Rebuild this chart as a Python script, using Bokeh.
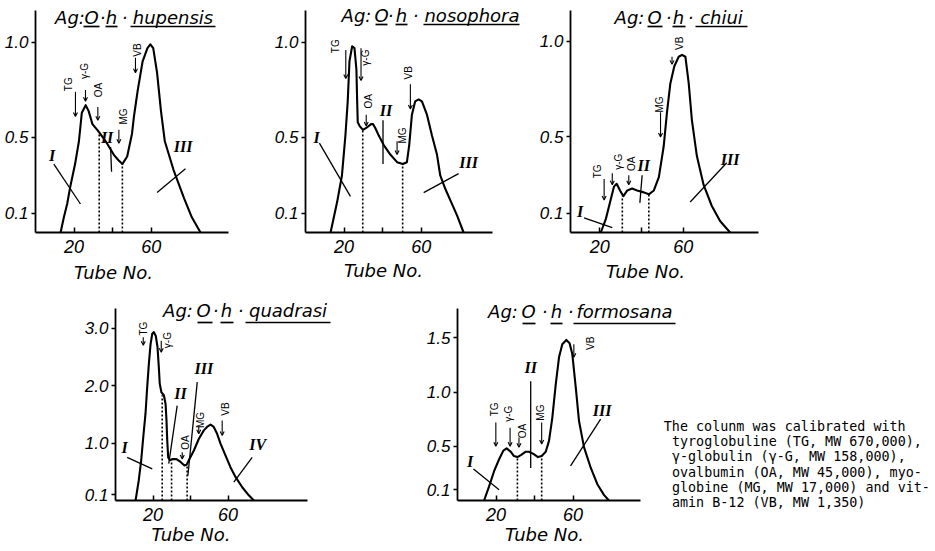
import math
from bokeh.plotting import figure
from bokeh.models import (FixedTicker, Range1d, Arrow, OpenHead, ColumnDataSource, Spacer,
                          NumeralTickFormatter)
from bokeh.layouts import row, column
from bokeh.embed import file_html
from bokeh.resources import INLINE
from bokeh.core.properties import value

# ---------------- chart values ----------------
X_TICKS = [20, 40, 60]
X_TICK_TEXT = {40: ""}
Y_TICKS_SMALL = [0.1, 0.5, 1.0]
Y_TICKS_QUA = [0.1, 1.0, 2.0, 3.0]
Y_TICKS_FOR = [0.1, 0.5, 1.0, 1.5]
MARKERS = ["TG", "γ-G", "OA", "MG", "VB"]
FRACTIONS_3 = ["I", "II", "III"]
FRACTIONS_4 = ["I", "II", "III", "IV"]
X_TITLE = "Tube No."

# Ag:O.h.hupensis
HUP_TUBE = [13, 14.7, 16.4, 18, 20.5, 22.5, 24, 26, 27.5, 29.5, 32, 33.5, 37, 40.5, 43, 45, 47.5,
            50, 51, 52, 53, 55.5, 58, 59.5, 61, 63, 65, 67, 71.5, 77, 81, 85.5]
HUP_OD = [0, 0.08, 0.15, 0.24, 0.36, 0.48, 0.63, 0.67, 0.64, 0.57, 0.54, 0.52, 0.47, 0.41, 0.38, 0.36, 0.40,
          0.52, 0.61, 0.68, 0.75, 0.90, 0.97, 0.99, 0.97, 0.84, 0.64, 0.48, 0.33, 0.18, 0.08, 0]
HUP_CUT_TUBE = [33, 45]
HUP_CUT_OD = [0.52, 0.36]

# Ag:O.h.nosophora
NOS_TUBE = [13, 16.4, 18.9, 20.7, 21.9, 22.8, 24.2, 25.4, 26.4, 26.8, 27.1, 28.1, 29.8, 31.5, 34, 35, 36.2,
            38, 40.6, 44, 47.5, 50.5, 52.6, 53.8, 55.2, 56.9, 58.7, 60.4, 63, 65.6, 68.2, 69.9, 72.5, 75.1,
            78.6, 82]
NOS_OD = [0, 0.16, 0.30, 0.51, 0.69, 0.90, 0.98, 0.97, 0.86, 0.69, 0.58, 0.56, 0.54, 0.55, 0.57, 0.57, 0.55,
          0.51, 0.46, 0.41, 0.37, 0.36, 0.37, 0.46, 0.62, 0.69, 0.70, 0.69, 0.62, 0.51, 0.41, 0.30, 0.23, 0.17,
          0.09, 0]
NOS_CUT_TUBE = [29.7, 50.4]
NOS_CUT_OD = [0.54, 0.36]

# Ag:O.h.chiui
CHI_TUBE = [20.5, 22.9, 25.2, 26.8, 28.1, 29.7, 31.3, 33.2, 35.5, 37.9, 41.1, 43.5, 45.9, 48.3, 50.6, 52.2,
            53.8, 55.7, 57.8, 59.4, 61, 62.6, 64.1, 66.5, 69.7, 73.6, 77.6, 82.4]
CHI_OD = [0, 0.07, 0.17, 0.24, 0.255, 0.22, 0.19, 0.22, 0.23, 0.22, 0.21, 0.20, 0.22, 0.29, 0.45, 0.63,
          0.78, 0.87, 0.92, 0.93, 0.92, 0.78, 0.59, 0.40, 0.25, 0.14, 0.06, 0]
CHI_CUT_TUBE = [30.8, 43.5]
CHI_CUT_OD = [0.19, 0.20]

# Ag:O.h.quadrasi
QUA_TUBE = [10.7, 12.4, 13.7, 14.8, 16, 16.9, 17.8, 18.7, 19.6, 20.4, 21.5, 22.4, 23.1, 23.6, 24.5, 25.8,
            26.7, 27.2, 27.6, 28.1, 29, 30.2, 32.5, 34.7, 36.8, 37.9, 39.1, 41.8, 44.4, 47.1, 49.2, 50.7,
            52.4, 54.2, 56, 58.7, 61.3, 64, 67.6, 71.1, 73.8]
QUA_OD = [0, 0.35, 0.70, 1.10, 1.51, 1.97, 2.38, 2.72, 2.90, 2.93, 2.86, 2.67, 2.32, 2.03, 1.88, 1.83,
          1.68, 1.39, 1.04, 0.75, 0.70, 0.72, 0.72, 0.67, 0.61, 0.62, 0.70, 0.87, 1.07, 1.22, 1.29, 1.32,
          1.28, 1.16, 0.99, 0.78, 0.58, 0.41, 0.23, 0.09, 0]
QUA_CUT_TUBE = [24.9, 29.9, 38.2]
QUA_CUT_OD = [1.83, 0.71, 0.61]

# Ag:O.h.formosana
FOR_TUBE = [13.8, 16.4, 19, 21.6, 23.8, 25.5, 27.6, 29.3, 31.1, 33.1, 35.4, 37.1, 39.4, 41.8, 43.7, 45.8,
            47.5, 49.2, 51, 52.7, 54.4, 56.5, 58.2, 59.6, 61.4, 63.1, 65.7, 69.2, 72.6, 76.1, 78.6]
FOR_OD = [0, 0.13, 0.27, 0.38, 0.46, 0.48, 0.45, 0.41, 0.40, 0.42, 0.45, 0.45, 0.43, 0.40, 0.41, 0.45,
          0.55, 0.76, 1.07, 1.32, 1.44, 1.48, 1.45, 1.35, 1.04, 0.73, 0.49, 0.30, 0.15, 0.05, 0]
FOR_CUT_TUBE = [31.1, 43.7]
FOR_CUT_OD = [0.40, 0.41]

NOTE_LINES = ["The colunm was calibrated with",
              "tyroglobuline (TG, MW 670,000),",
              "γ-globulin (γ-G, MW 158,000),",
              "ovalbumin (OA, MW 45,000), myo-",
              "globine (MG, MW 17,000) and vit-",
              "amin B-12 (VB, MW 1,350)"]

# ---------------- layout geometry (page px, page has no body margin) ----------------
G1 = dict(cl=0, ct=0, w=250, h=285, fl=35, fr=228, ft=10, fb=232, x0=0, x1=100, y0=0, y1=1.168)
G2 = dict(cl=250, ct=0, w=270, h=285, fl=305, fr=492, ft=10, fb=232, x0=0, x1=97, y0=0, y1=1.168)
G3 = dict(cl=520, ct=0, w=270, h=285, fl=570, fr=758, ft=10, fb=232, x0=6, x1=96, y0=0, y1=1.162)
G4 = dict(cl=80, ct=285, w=330, h=265, fl=115, fr=307, ft=308, fb=500, x0=0, x1=102.4, y0=0, y1=3.34)
G5 = dict(cl=410, ct=285, w=524, h=265, fl=457, fr=640, ft=308, fb=500, x0=0, x1=95, y0=0, y1=1.77)


def px2d(g, x, y):
    t = g["x0"] + (x - g["fl"]) / (g["fr"] - g["fl"]) * (g["x1"] - g["x0"])
    v = g["y0"] + (g["fb"] - y) / (g["fb"] - g["ft"]) * (g["y1"] - g["y0"])
    return t, v


def base_fig(g, yticks):
    p = figure(width=g["w"], height=g["h"], x_range=Range1d(g["x0"], g["x1"]),
               y_range=Range1d(g["y0"], g["y1"]), output_backend="svg", toolbar_location=None,
               title=None,
               min_border_left=g["fl"] - g["cl"], min_border_right=g["cl"] + g["w"] - g["fr"],
               min_border_top=g["ft"] - g["ct"], min_border_bottom=g["ct"] + g["h"] - g["fb"])
    p.outline_line_color = None
    p.grid.visible = False
    p.background_fill_color = "white"
    p.border_fill_color = "white"
    xa = p.xaxis[0]
    xa.ticker = FixedTicker(ticks=X_TICKS)
    xa.major_label_overrides = X_TICK_TEXT
    xa.minor_tick_line_color = None
    xa.major_tick_in = 5
    xa.major_tick_out = 0
    xa.major_label_standoff = 7
    xa.axis_line_width = 1.8
    xa.major_tick_line_width = 1.5
    xa.major_label_text_font = "Liberation Sans"
    xa.major_label_text_font_style = "italic"
    xa.major_label_text_font_size = "18px"
    xa.major_label_text_color = "black"
    ya = p.yaxis[0]
    ya.ticker = FixedTicker(ticks=yticks)
    ya.formatter = NumeralTickFormatter(format="0.0")
    ya.minor_tick_line_color = None
    ya.major_tick_in = 0
    ya.major_tick_out = 4
    ya.major_label_standoff = 3
    ya.axis_line_width = 1.8
    ya.major_tick_line_width = 1.5
    ya.major_label_text_font = "Liberation Sans"
    ya.major_label_text_font_style = "italic"
    ya.major_label_text_font_size = "17px"
    ya.major_label_text_color = "black"
    return p


def free_text(p, g, texts, xs_px, base_px, font, size, style="normal", align="center"):
    xs, ys = [], []
    for x, b in zip(xs_px, base_px):
        t, v = px2d(g, x, b - 0.33 * size)
        xs.append(t)
        ys.append(v)
    p.text(x=xs, y=ys, text=texts, text_font=value(font), text_font_style=style,
           text_font_size=f"{size}px", text_align=align, text_baseline="middle", text_color="black",
           level="overlay")


def add_title(p, g, pieces, centers, base_y, ul_spans, ul_y):
    free_text(p, g, pieces, centers, [base_y] * len(pieces), "DejaVu Sans", 18, "italic")
    x0s, x1s, ys = [], [], []
    for a, b in ul_spans:
        ta, vv = px2d(g, a, ul_y)
        tb, _ = px2d(g, b, ul_y)
        x0s.append(ta)
        x1s.append(tb)
        ys.append(vv)
    p.segment(x0=x0s, y0=ys, x1=x1s, y1=ys, line_color="black", line_width=1.7, level="overlay")


def add_xtitle(p, g, cx, base_y):
    free_text(p, g, [X_TITLE], [cx], [base_y], "DejaVu Sans", 18, "italic")


def add_curve(p, tube, od, cut_t, cut_h):
    p.segment(x0=cut_t, y0=[0] * len(cut_t), x1=cut_t, y1=cut_h, line_color="black",
              line_width=1.6, line_dash="2 2")
    p.line(tube, od, line_color="black", line_width=2.1, line_join="round")


def add_fractions(p, labels, lx, ly, x0, y0, x1, y1):
    p.segment(x0=x0, y0=y0, x1=x1, y1=y1, line_color="black", line_width=1.3)
    p.text(x=lx, y=ly, text=labels, text_font=value("Liberation Serif"), text_font_style="bold italic",
           text_font_size="16px", text_align="center", text_baseline="middle", text_color="black")


def add_markers(p, tx, ty, ax, ay0, ay1):
    p.text(x=tx, y=ty, text=MARKERS, angle=math.pi / 2, text_font=value("Liberation Sans"),
           text_font_size="10px", text_align="center", text_baseline="middle", text_color="black")
    src = ColumnDataSource(dict(x=ax, y0=ay0, y1=ay1))
    p.add_layout(Arrow(end=OpenHead(size=4, line_width=1.1, line_color="black"), x_start="x",
                       y_start="y0", x_end="x", y_end="y1", source=src, line_width=1.1,
                       line_color="black"))


# ---- panel 1: hupensis ----
p1 = base_fig(G1, Y_TICKS_SMALL)
add_curve(p1, HUP_TUBE, HUP_OD, HUP_CUT_TUBE, HUP_CUT_OD)
add_fractions(p1, FRACTIONS_3, [8.6, 37.1, 76.5], [0.405, 0.50, 0.45],
              [9.5, 38.9, 77.7], [0.36, 0.45, 0.335], [23.3, 39.4, 63.0], [0.15, 0.32, 0.21])
add_markers(p1, [17.3, 25.2, 32.8, 45.4, 52.7], [0.78, 0.85, 0.75, 0.61, 0.96],
            [20.7, 25.9, 32.3, 43.2, 51.8], [0.74, 0.75, 0.66, 0.54, 0.92], [0.61, 0.69, 0.59, 0.47, 0.84])
add_title(p1, G1, ["Ag:", "O", "·", "h", "·", "hupensis"], [69.5, 91, 102, 111, 124, 172.5], 23,
          [(83, 99), (105, 117), (130, 215)], 26)
add_xtitle(p1, G1, 113, 278)

# ---- panel 2: nosophora ----
p2 = base_fig(G2, Y_TICKS_SMALL)
add_curve(p2, NOS_TUBE, NOS_OD, NOS_CUT_TUBE, NOS_CUT_OD)
add_fractions(p2, FRACTIONS_3, [5.7, 41.8, 84.6], [0.50, 0.64, 0.37],
              [7.2, 40.2, 79.4], [0.47, 0.59, 0.31], [23.3, 40.2, 61.3], [0.19, 0.36, 0.21])
add_markers(p2, [15.5, 31.1, 32.8, 50.1, 53.5], [0.98, 0.92, 0.69, 0.51, 0.84],
            [20.9, 28.8, 31.5, 47.5, 54.4], [0.96, 0.97, 0.62, 0.48, 0.78], [0.81, 0.80, 0.56, 0.41, 0.65])
add_title(p2, G2, ["Ag:", "O", "·", "h", "·", "nosophora"], [356, 381, 390, 401, 415, 471.5], 21,
          [(375, 387), (395, 407), (423, 519)], 24)
add_xtitle(p2, G2, 383, 276)

# ---- panel 3: chiui ----
p3 = base_fig(G3, Y_TICKS_SMALL)
add_curve(p3, CHI_TUBE, CHI_OD, CHI_CUT_TUBE, CHI_CUT_OD)
add_fractions(p3, FRACTIONS_3, [10.6, 41.1, 82.4], [0.11, 0.35, 0.38],
              [12.5, 40.3, 80.8], [0.077, 0.30, 0.365], [26, 39.2, 63.3], [0.025, 0.155, 0.16])
add_markers(p3, [18.9, 29.2, 35.1, 48.7, 58.2], [0.32, 0.37, 0.36, 0.67, 0.99],
            [22.1, 26, 33.9, 49.1, 54.6], [0.28, 0.31, 0.30, 0.63, 0.92], [0.17, 0.25, 0.25, 0.50, 0.88])
add_title(p3, G3, ["Ag:", "O", "·", "h", "·", "chiui"], [629, 654, 668, 678, 690, 721], 23,
          [(647, 662), (672, 685), (695, 747)], 26)
add_xtitle(p3, G3, 645, 277)

# ---- panel 4: quadrasi ----
p4 = base_fig(G4, Y_TICKS_QUA)
add_curve(p4, QUA_TUBE, QUA_OD, QUA_CUT_TUBE, QUA_CUT_OD)
add_fractions(p4, FRACTIONS_4, [4.8, 34.7, 47.1, 75.9], [0.92, 1.86, 2.29, 0.97],
              [6.2, 32.9, 43.6, 72.9], [0.75, 1.65, 2.06, 0.75], [19.6, 28.4, 38.6, 63.1],
              [0.55, 0.64, 0.43, 0.32])
add_markers(p4, [15.1, 27.6, 37.3, 45.3, 58.7], [2.99, 2.79, 1.01, 1.40, 1.59],
            [14.8, 24.4, 35.6, 44.4, 56.9], [2.84, 2.78, 0.84, 1.28, 1.39], [2.70, 2.58, 0.72, 1.16, 1.13])
add_title(p4, G4, ["Ag:", "O", "·", "h", "·", "quadrasi"], [177.5, 203, 215, 226, 240, 287.5], 316,
          [(197, 212), (220, 233), (245, 330)], 322)
add_xtitle(p4, G4, 190.5, 540)

# ---- panel 5: formosana (+ calibration note) ----
p5 = base_fig(G5, Y_TICKS_FOR)
add_curve(p5, FOR_TUBE, FOR_OD, FOR_CUT_TUBE, FOR_CUT_OD)
add_fractions(p5, FRACTIONS_3, [6.5, 38, 75.1], [0.36, 1.23, 0.83],
              [8.3, 38, 74.3], [0.29, 1.10, 0.75], [21.6, 38, 58.7], [0.10, 0.30, 0.32])
add_markers(p5, [19, 26.7, 33.7, 43.2, 69.1], [0.84, 0.80, 0.64, 0.81, 1.45],
            [19.9, 27.3, 31.9, 43.7, 60.4], [0.72, 0.67, 0.58, 0.72, 1.44], [0.50, 0.50, 0.49, 0.52, 1.32])
add_title(p5, G5, ["Ag:", "O", "·", "h", "·", "formosana"], [502.5, 528, 544, 556, 570, 624], 317,
          [(522, 535), (550, 562), (573, 675)], 323)
add_xtitle(p5, G5, 544, 540)

note_x = [663.3] + [671.4] * (len(NOTE_LINES) - 1)
note_base = [430.7 + 15.1 * i for i in range(len(NOTE_LINES))]
free_text(p5, G5, NOTE_LINES, note_x, note_base, "DejaVu Sans Mono", 13.4, align="left")

layout = column(row(p1, p2, p3), row(Spacer(width=80, height=265), p4, p5))

open("out.html", "w").write(file_html(layout, INLINE))
